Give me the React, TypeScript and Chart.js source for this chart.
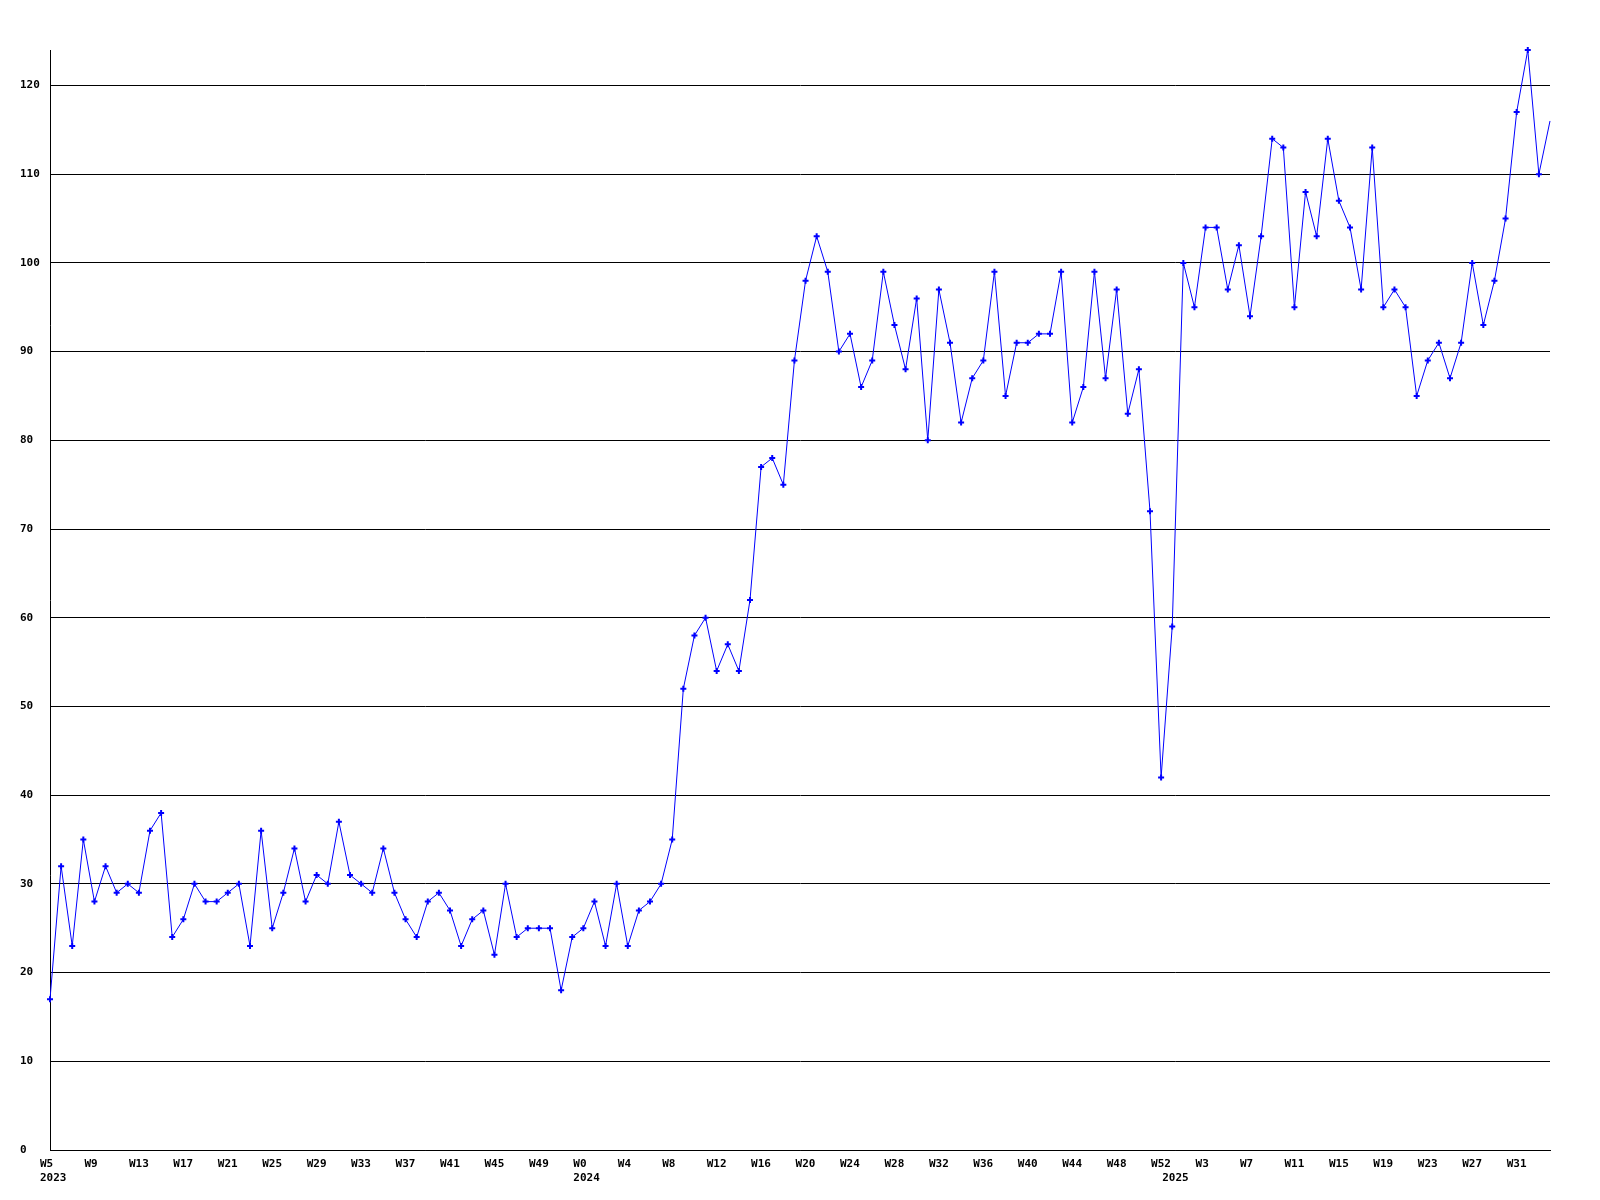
import React, { useEffect, useRef } from "react";
import { Chart, registerables } from "chart.js";

Chart.register(...registerables);

// Week labels: 2023 W5..W52, 2024 W0..W52, 2025 W0..W34
const weeks2023: string[] = Array.from({ length: 48 }, (_, k) => `W${k + 5}`);
const weeks2024: string[] = Array.from({ length: 53 }, (_, k) => `W${k}`);
const weeks2025: string[] = Array.from({ length: 35 }, (_, k) => `W${k}`);
const weekLabels: string[] = [...weeks2023, ...weeks2024, ...weeks2025];

// Year labels placed under the first week of each year (index -> year)
const yearStarts: number[] = [0, 48, 101];
const yearNames: string[] = ["2023", "2024", "2025"];

const values: number[] = [
  17, 32, 23, 35, 28, 32, 29, 30, 29, 36, 38, 24, 26, 30, 28, 28, 29, 30, 23, 36,
  25, 29, 34, 28, 31, 30, 37, 31, 30, 29, 34, 29, 26, 24, 28, 29, 27, 23, 26, 27,
  22, 30, 24, 25, 25, 25, 18, 24, 25, 28, 23, 30, 23, 27, 28, 30, 35, 52, 58, 60,
  54, 57, 54, 62, 77, 78, 75, 89, 98, 103, 99, 90, 92, 86, 89, 99, 93, 88, 96, 80,
  97, 91, 82, 87, 89, 99, 85, 91, 91, 92, 92, 99, 82, 86, 99, 87, 97, 83, 88, 72,
  42, 59, 100, 95, 104, 104, 97, 102, 94, 103, 114, 113, 95, 108, 103, 114, 107, 104, 97, 113,
  95, 97, 95, 85, 89, 91, 87, 91, 100, 93, 98, 105, 117, 124, 110, 116,
];

const yMax = 124;
const yStep = 10;
const tickEvery = 4;

export default function App() {
  const ref = useRef<HTMLCanvasElement | null>(null);

  useEffect(() => {
    if (!ref.current) return;
    const font = { family: "'DejaVu Sans Mono', monospace", size: 11, weight: "bold" as const, lineHeight: 1.3 };
    const lastIdx = values.length - 1;
    const chart = new Chart(ref.current, {
      type: "line",
      data: {
        labels: weekLabels,
        datasets: [
          {
            data: values,
            borderColor: "#0000ff",
            backgroundColor: "#0000ff",
            borderWidth: 1,
            tension: 0,
            pointStyle: "cross",
            pointRadius: (c: any) => (c.dataIndex === lastIdx ? 0 : 3),
            pointBorderWidth: 2,
            pointBorderColor: "#0000ff",
            fill: false,
            clip: false as any,
          },
        ],
      },
      options: {
        animation: false,
        responsive: false,
        layout: { padding: { left: 20, right: 50, top: 50, bottom: 0 } },
        plugins: { legend: { display: false }, tooltip: { enabled: false } },
        scales: {
          x: {
            type: "category",
            offset: false,
            grid: { display: false },
            border: { display: true, color: "#000000", width: 1 },
            afterFit: (s: any) => {
              s.height = 50;
            },
            ticks: {
              autoSkip: false,
              maxRotation: 0,
              minRotation: 0,
              align: "start",
              labelOffset: -10,
              padding: -1,
              color: "#000000",
              font,
              callback: (_v: any, i: number) => {
                const yi = yearStarts.indexOf(i);
                const isTick = i % tickEvery === 0;
                if (isTick && yi >= 0) return [weekLabels[i], yearNames[yi]];
                if (isTick) return weekLabels[i];
                if (yi >= 0) return ["", yearNames[yi]];
                return null as any;
              },
            },
          },
          y: {
            min: 0,
            max: yMax,
            grid: { display: true, color: "#000000", lineWidth: 1, drawTicks: false },
            border: { display: true, color: "#000000", width: 1 },
            afterFit: (s: any) => {
              s.width = 30;
            },
            ticks: {
              stepSize: yStep,
              includeBounds: false,
              crossAlign: "far",
              padding: 10,
              color: "#000000",
              font,
            },
          },
        },
      },
    });
    return () => chart.destroy();
  }, []);

  return (
    <div style={{ position: "absolute", left: 0, top: 0, width: 1600, height: 1200, background: "#ffffff" }}>
      <canvas ref={ref} width={1600} height={1200} style={{ width: 1600, height: 1200, display: "block" }} />
    </div>
  );
}
